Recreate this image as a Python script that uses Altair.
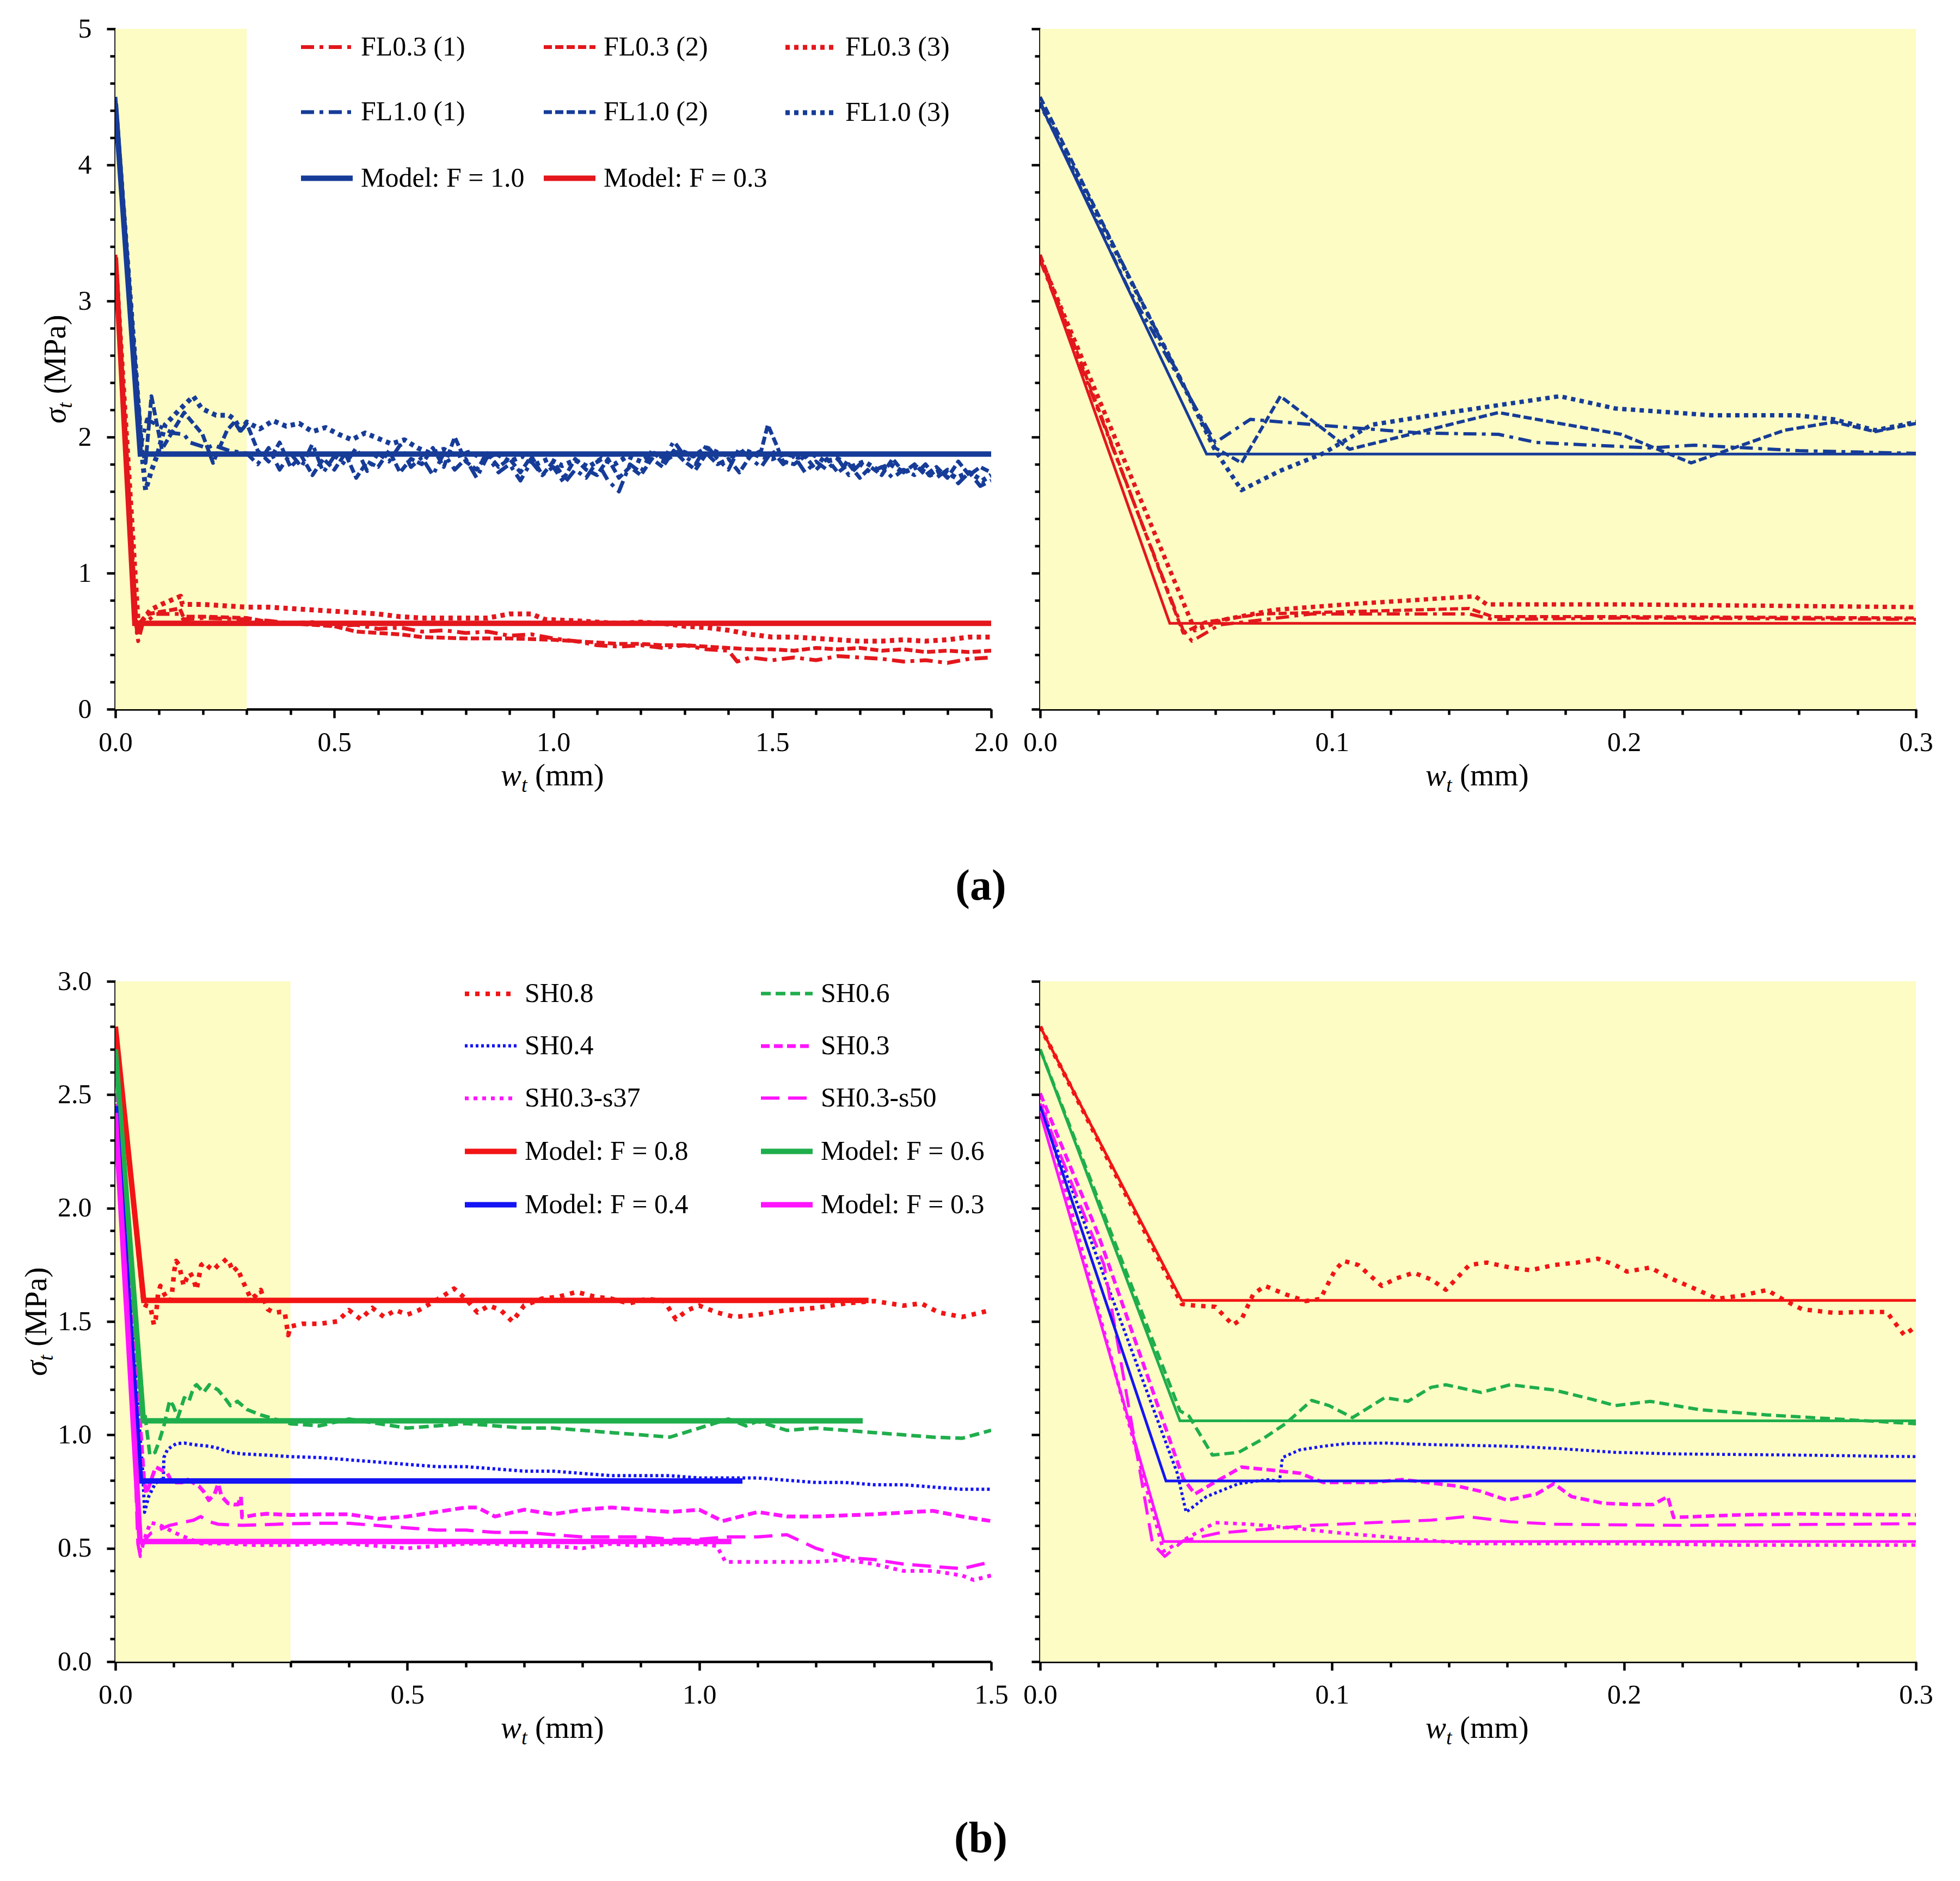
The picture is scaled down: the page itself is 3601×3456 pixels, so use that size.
import altair as alt
import pandas as pd

FONT = "Liberation Serif"

# ---------------- (a) FL data ----------------
fl03_1 = [(0, 3.30), (0.049, 0.58), (0.052, 0.50), (0.0615, 0.62), (0.093, 0.70), (0.147, 0.70), (0.155, 0.66),
          (0.2, 0.67), (0.3, 0.66), (0.35, 0.65), (0.4, 0.63), (0.45, 0.64), (0.5, 0.61), (0.55, 0.62), (0.6, 0.59),
          (0.65, 0.60), (0.7, 0.57), (0.75, 0.58), (0.8, 0.56), (0.85, 0.57), (0.9, 0.54), (0.95, 0.55), (1.0, 0.52),
          (1.05, 0.50), (1.1, 0.47), (1.15, 0.46), (1.2, 0.47), (1.25, 0.45), (1.3, 0.47), (1.35, 0.44), (1.4, 0.43),
          (1.42, 0.35), (1.45, 0.38), (1.5, 0.36), (1.55, 0.38), (1.6, 0.36), (1.65, 0.39), (1.7, 0.38), (1.75, 0.37),
          (1.8, 0.35), (1.85, 0.36), (1.9, 0.34), (1.95, 0.37), (2.0, 0.38)]
fl03_2 = [(0, 3.34), (0.049, 0.56), (0.0565, 0.64), (0.076, 0.70), (0.147, 0.74), (0.155, 0.68), (0.2, 0.68),
          (0.3, 0.67), (0.35, 0.64), (0.4, 0.63), (0.45, 0.62), (0.5, 0.61), (0.55, 0.57), (0.6, 0.56), (0.65, 0.55),
          (0.7, 0.53), (0.8, 0.52), (0.9, 0.52), (1.0, 0.51), (1.05, 0.50), (1.1, 0.49), (1.15, 0.48), (1.2, 0.48),
          (1.25, 0.47), (1.3, 0.47), (1.35, 0.46), (1.4, 0.45), (1.45, 0.44), (1.5, 0.44), (1.55, 0.43), (1.6, 0.45),
          (1.65, 0.44), (1.7, 0.45), (1.75, 0.43), (1.8, 0.44), (1.85, 0.42), (1.9, 0.43), (1.95, 0.42), (2.0, 0.43)]
fl03_3 = [(0, 3.32), (0.053, 0.58), (0.0635, 0.66), (0.08, 0.73), (0.105, 0.77), (0.134, 0.81), (0.149, 0.83),
          (0.153, 0.77), (0.2, 0.77), (0.25, 0.76), (0.3, 0.75), (0.35, 0.75), (0.4, 0.74), (0.45, 0.73), (0.5, 0.72),
          (0.55, 0.71), (0.6, 0.70), (0.65, 0.68), (0.7, 0.67), (0.75, 0.67), (0.8, 0.67), (0.85, 0.67), (0.9, 0.70),
          (0.95, 0.70), (0.98, 0.66), (1.05, 0.65), (1.1, 0.64), (1.15, 0.63), (1.2, 0.64), (1.25, 0.63), (1.3, 0.61),
          (1.35, 0.60), (1.4, 0.58), (1.45, 0.55), (1.5, 0.53), (1.55, 0.53), (1.6, 0.52), (1.65, 0.51), (1.7, 0.50),
          (1.75, 0.50), (1.8, 0.51), (1.85, 0.50), (1.9, 0.51), (1.95, 0.53), (2.0, 0.53)]
fl10_1 = [(0, 4.46), (0.03, 3.1), (0.06, 1.96), (0.072, 2.13), (0.1, 2.08), (0.13, 2.03), (0.157, 2.02), (0.17, 1.96),
          (0.209, 1.92), (0.224, 1.94), (0.26, 1.90), (0.3, 1.88), (0.325, 1.80), (0.35, 1.92), (0.375, 1.76),
          (0.4, 1.88), (0.425, 1.78), (0.45, 1.95), (0.475, 1.74), (0.5, 1.86), (0.525, 1.80), (0.55, 1.92),
          (0.575, 1.75), (0.6, 1.88), (0.625, 1.82), (0.65, 1.94), (0.675, 1.78), (0.7, 1.85), (0.725, 1.72),
          (0.75, 1.88), (0.775, 1.76), (0.8, 1.84), (0.825, 1.70), (0.85, 1.86), (0.875, 1.74), (0.9, 1.80),
          (0.925, 1.68), (0.95, 1.82), (0.975, 1.72), (1.0, 1.78), (1.025, 1.66), (1.05, 1.76), (1.075, 1.70),
          (1.1, 1.82), (1.125, 1.68), (1.15, 1.60), (1.175, 1.80), (1.2, 1.74), (1.225, 1.90), (1.25, 1.82),
          (1.275, 1.97), (1.3, 1.86), (1.325, 1.80), (1.35, 1.94), (1.375, 1.84), (1.4, 1.76), (1.425, 1.92),
          (1.45, 1.84), (1.475, 1.78), (1.5, 1.90), (1.525, 1.80), (1.55, 1.86), (1.575, 1.74), (1.6, 1.82),
          (1.625, 1.76), (1.65, 1.84), (1.675, 1.72), (1.7, 1.80), (1.725, 1.74), (1.75, 1.78), (1.775, 1.70),
          (1.8, 1.76), (1.825, 1.72), (1.85, 1.80), (1.875, 1.70), (1.9, 1.76), (1.925, 1.66), (1.95, 1.74),
          (1.975, 1.64), (2.0, 1.68)]
fl10_2 = [(0, 4.5), (0.03, 3.2), (0.06, 1.92), (0.069, 1.81), (0.0823, 2.30), (0.106, 1.91), (0.157, 2.18),
          (0.199, 2.02), (0.223, 1.81), (0.255, 2.05), (0.272, 2.11), (0.286, 2.04), (0.3, 2.10), (0.325, 1.90),
          (0.35, 1.82), (0.375, 1.96), (0.4, 1.78), (0.425, 1.86), (0.45, 1.72), (0.475, 1.84), (0.5, 1.76),
          (0.525, 1.88), (0.55, 1.70), (0.575, 1.82), (0.6, 1.78), (0.625, 1.90), (0.65, 1.74), (0.675, 1.84),
          (0.7, 1.80), (0.725, 1.92), (0.75, 1.78), (0.775, 2.0), (0.8, 1.82), (0.825, 1.76), (0.85, 1.88),
          (0.875, 1.78), (0.9, 1.84), (0.925, 1.74), (0.95, 1.86), (0.975, 1.72), (1.0, 1.82), (1.025, 1.70),
          (1.05, 1.84), (1.075, 1.76), (1.1, 1.72), (1.125, 1.84), (1.15, 1.70), (1.175, 1.78), (1.2, 1.72),
          (1.225, 1.84), (1.25, 1.78), (1.275, 1.90), (1.3, 1.82), (1.325, 1.76), (1.35, 1.88), (1.375, 1.80),
          (1.4, 1.84), (1.425, 1.74), (1.45, 1.86), (1.475, 1.90), (1.49, 2.09), (1.51, 1.94), (1.525, 1.82),
          (1.55, 1.80), (1.575, 1.86), (1.6, 1.76), (1.625, 1.84), (1.65, 1.74), (1.675, 1.80), (1.7, 1.70),
          (1.725, 1.78), (1.75, 1.72), (1.775, 1.84), (1.8, 1.74), (1.825, 1.80), (1.85, 1.72), (1.875, 1.78),
          (1.9, 1.70), (1.925, 1.82), (1.95, 1.72), (1.975, 1.78), (2.0, 1.74)]
fl10_3 = [(0, 4.45), (0.0448, 2.57), (0.06, 1.90), (0.069, 1.61), (0.082, 1.75), (0.097, 1.88), (0.1135, 2.09),
          (0.143, 2.19), (0.178, 2.30), (0.197, 2.21), (0.23, 2.16), (0.259, 2.16), (0.272, 2.13), (0.286, 2.05),
          (0.3, 2.11), (0.33, 2.06), (0.36, 2.12), (0.39, 2.08), (0.42, 2.10), (0.45, 2.04), (0.48, 2.07),
          (0.51, 2.02), (0.54, 1.98), (0.57, 2.03), (0.6, 1.99), (0.63, 1.95), (0.66, 1.98), (0.69, 1.92),
          (0.72, 1.88), (0.75, 1.91), (0.78, 1.86), (0.81, 1.89), (0.84, 1.84), (0.87, 1.88), (0.9, 1.82),
          (0.93, 1.86), (0.96, 1.80), (0.99, 1.84), (1.02, 1.79), (1.05, 1.83), (1.08, 1.78), (1.11, 1.84),
          (1.14, 1.80), (1.17, 1.86), (1.2, 1.82), (1.23, 1.88), (1.26, 1.84), (1.29, 1.90), (1.32, 1.86),
          (1.35, 1.92), (1.38, 1.88), (1.41, 1.86), (1.44, 1.90), (1.47, 1.86), (1.5, 1.84), (1.53, 1.88),
          (1.56, 1.85), (1.59, 1.88), (1.62, 1.82), (1.65, 1.84), (1.68, 1.78), (1.71, 1.82), (1.74, 1.76),
          (1.77, 1.80), (1.8, 1.74), (1.83, 1.78), (1.86, 1.72), (1.89, 1.76), (1.92, 1.70), (1.95, 1.74),
          (1.98, 1.68), (2.0, 1.72)]
model_a10 = [(0, 4.45), (0.057, 1.875), (2.0, 1.875)]
model_a03 = [(0, 3.32), (0.0444, 0.631), (2.0, 0.631)]

# ---------------- (b) SH data ----------------
sh08 = [(0, 2.8), (0.0485, 1.577), (0.053, 1.57), (0.06, 1.565), (0.066, 1.485), (0.069, 1.51), (0.073, 1.62),
        (0.077, 1.657), (0.084, 1.62), (0.091, 1.59), (0.096, 1.60), (0.101, 1.726), (0.104, 1.767), (0.109, 1.749),
        (0.117, 1.657), (0.122, 1.69), (0.128, 1.715), (0.134, 1.685), (0.139, 1.64), (0.147, 1.749), (0.153, 1.76),
        (0.161, 1.738), (0.168, 1.726), (0.176, 1.749), (0.184, 1.76), (0.191, 1.777), (0.197, 1.749), (0.201, 1.72),
        (0.209, 1.738), (0.216, 1.69), (0.224, 1.646), (0.232, 1.60), (0.241, 1.616), (0.249, 1.639), (0.255, 1.593),
        (0.261, 1.554), (0.272, 1.538), (0.282, 1.542), (0.29, 1.542), (0.296, 1.44), (0.3, 1.478), (0.32, 1.49),
        (0.35, 1.49), (0.38, 1.50), (0.4, 1.55), (0.42, 1.51), (0.44, 1.56), (0.46, 1.52), (0.48, 1.55), (0.5, 1.53),
        (0.52, 1.55), (0.54, 1.58), (0.56, 1.61), (0.58, 1.645), (0.6, 1.60), (0.62, 1.54), (0.64, 1.57),
        (0.66, 1.55), (0.68, 1.50), (0.7, 1.57), (0.73, 1.60), (0.76, 1.61), (0.79, 1.63), (0.82, 1.61), (0.85, 1.60),
        (0.88, 1.58), (0.91, 1.60), (0.94, 1.59), (0.96, 1.51), (0.98, 1.55), (1.0, 1.57), (1.03, 1.54),
        (1.06, 1.52), (1.1, 1.53), (1.15, 1.55), (1.2, 1.56), (1.25, 1.58), (1.3, 1.59), (1.35, 1.57), (1.38, 1.58),
        (1.41, 1.54), (1.45, 1.52), (1.5, 1.55)]
sh06 = [(0, 2.70), (0.0479, 1.106), (0.051, 1.083), (0.059, 0.911), (0.068, 0.923), (0.076, 0.98), (0.084, 1.049),
        (0.093, 1.152), (0.099, 1.129), (0.107, 1.076), (0.118, 1.164), (0.126, 1.148), (0.134, 1.21), (0.139, 1.221),
        (0.151, 1.187), (0.161, 1.221), (0.176, 1.198), (0.189, 1.157), (0.197, 1.129), (0.209, 1.148),
        (0.226, 1.111), (0.249, 1.088), (0.27, 1.072), (0.3, 1.049), (0.35, 1.04), (0.4, 1.07), (0.45, 1.05),
        (0.5, 1.03), (0.55, 1.04), (0.6, 1.05), (0.65, 1.04), (0.7, 1.03), (0.75, 1.03), (0.8, 1.02), (0.85, 1.01),
        (0.9, 1.00), (0.95, 0.99), (1.0, 1.03), (1.05, 1.07), (1.08, 1.04), (1.1, 1.06), (1.15, 1.02), (1.2, 1.03),
        (1.25, 1.02), (1.3, 1.01), (1.35, 1.00), (1.4, 0.99), (1.45, 0.985), (1.5, 1.02)]
sh04 = [(0, 2.46), (0.047, 0.83), (0.05, 0.659), (0.057, 0.728), (0.068, 0.785), (0.078, 0.803), (0.082, 0.796),
        (0.083, 0.90), (0.089, 0.934), (0.097, 0.95), (0.105, 0.962), (0.118, 0.964), (0.134, 0.957), (0.161, 0.95),
        (0.176, 0.941), (0.197, 0.923), (0.218, 0.916), (0.259, 0.911), (0.3, 0.904), (0.35, 0.90), (0.4, 0.89),
        (0.45, 0.88), (0.5, 0.87), (0.55, 0.86), (0.6, 0.86), (0.65, 0.85), (0.7, 0.84), (0.75, 0.84), (0.8, 0.83),
        (0.85, 0.82), (0.9, 0.82), (0.95, 0.82), (1.0, 0.81), (1.05, 0.81), (1.1, 0.81), (1.15, 0.80), (1.2, 0.79),
        (1.25, 0.79), (1.3, 0.78), (1.35, 0.78), (1.4, 0.77), (1.45, 0.76), (1.5, 0.76)]
sh03 = [(0, 2.506), (0.0198, 1.887), (0.049, 0.808), (0.053, 0.739), (0.059, 0.785), (0.069, 0.858), (0.076, 0.849),
        (0.089, 0.831), (0.097, 0.79), (0.114, 0.79), (0.124, 0.803), (0.143, 0.774), (0.151, 0.751), (0.16, 0.712),
        (0.17, 0.739), (0.176, 0.785), (0.182, 0.728), (0.193, 0.698), (0.203, 0.693), (0.21, 0.693), (0.215, 0.728),
        (0.217, 0.636), (0.239, 0.647), (0.259, 0.652), (0.3, 0.647), (0.35, 0.65), (0.4, 0.65), (0.45, 0.63),
        (0.5, 0.64), (0.55, 0.66), (0.6, 0.68), (0.62, 0.68), (0.65, 0.64), (0.7, 0.67), (0.75, 0.65), (0.8, 0.67),
        (0.85, 0.68), (0.9, 0.67), (0.95, 0.66), (1.0, 0.67), (1.04, 0.62), (1.1, 0.66), (1.15, 0.64), (1.2, 0.64),
        (1.3, 0.65), (1.4, 0.665), (1.45, 0.64), (1.5, 0.62)]
sh03_s37 = [(0, 2.495), (0.0423, 0.487), (0.047, 0.521), (0.055, 0.578), (0.06, 0.613), (0.072, 0.606),
            (0.086, 0.59), (0.103, 0.567), (0.124, 0.544), (0.147, 0.521), (0.197, 0.521), (0.239, 0.514),
            (0.3, 0.514), (0.35, 0.52), (0.4, 0.52), (0.45, 0.51), (0.5, 0.50), (0.55, 0.51), (0.6, 0.52),
            (0.65, 0.52), (0.7, 0.51), (0.75, 0.51), (0.8, 0.50), (0.85, 0.52), (0.9, 0.51), (0.95, 0.52),
            (1.0, 0.52), (1.03, 0.51), (1.045, 0.44), (1.1, 0.44), (1.15, 0.44), (1.2, 0.44), (1.25, 0.45),
            (1.3, 0.43), (1.35, 0.40), (1.4, 0.40), (1.45, 0.38), (1.47, 0.36), (1.5, 0.38)]
sh03_s50 = [(0, 2.46), (0.0219, 1.749), (0.0385, 0.521), (0.0427, 0.464), (0.049, 0.533), (0.061, 0.567),
            (0.076, 0.583), (0.093, 0.601), (0.114, 0.613), (0.134, 0.624), (0.146, 0.64), (0.161, 0.617),
            (0.176, 0.606), (0.218, 0.601), (0.3, 0.608), (0.35, 0.61), (0.4, 0.61), (0.45, 0.60), (0.5, 0.59),
            (0.55, 0.58), (0.6, 0.58), (0.65, 0.57), (0.7, 0.57), (0.75, 0.56), (0.8, 0.55), (0.85, 0.55),
            (0.9, 0.55), (0.95, 0.54), (1.0, 0.54), (1.05, 0.55), (1.1, 0.55), (1.15, 0.56), (1.2, 0.50),
            (1.25, 0.46), (1.3, 0.45), (1.35, 0.43), (1.4, 0.42), (1.45, 0.41), (1.5, 0.44)]
model_b08 = [(0, 2.8), (0.0485, 1.593), (1.29, 1.593)]
model_b06 = [(0, 2.70), (0.0479, 1.062), (1.28, 1.062)]
model_b04 = [(0, 2.45), (0.0431, 0.797), (1.074, 0.797)]
model_b03 = [(0, 2.42), (0.0423, 0.53), (1.055, 0.53)]

# ---------------- styles ----------------
BLUE_A, RED_A = "#163c98", "#e3171c"
RED_B, GREEN_B, BLUE_B, MAG_B = "#f21414", "#1fae4c", "#1414f5", "#ff14ff"
SHADE = "#fcfcc4"

names_a = ["FL0.3 (1)", "FL0.3 (2)", "FL0.3 (3)", "FL1.0 (1)", "FL1.0 (2)", "FL1.0 (3)",
           "Model: F = 1.0", "Model: F = 0.3"]
series_a = [fl03_1, fl03_2, fl03_3, fl10_1, fl10_2, fl10_3, model_a10, model_a03]
colors_a = [RED_A, RED_A, RED_A, BLUE_A, BLUE_A, BLUE_A, BLUE_A, RED_A]
dashes_a = [[24, 10, 7, 10], [15, 6], [8, 8], [24, 10, 7, 10], [15, 6], [8, 8], [1, 0], [1, 0]]
wl_a = [7, 7, 9, 7, 7, 9, 10, 10]
wr_a = [6, 6, 8, 6, 6, 8, 5, 5]

names_b = ["SH0.8", "SH0.6", "SH0.4", "SH0.3", "SH0.3-s37", "SH0.3-s50",
           "Model: F = 0.8", "Model: F = 0.6", "Model: F = 0.4", "Model: F = 0.3"]
series_b = [sh08, sh06, sh04, sh03, sh03_s37, sh03_s50, model_b08, model_b06, model_b04, model_b03]
colors_b = [RED_B, GREEN_B, BLUE_B, MAG_B, MAG_B, MAG_B, RED_B, GREEN_B, BLUE_B, MAG_B]
dashes_b = [[8, 11], [18, 9], [5, 5], [16, 8], [7, 9], [34, 16], [1, 0], [1, 0], [1, 0], [1, 0]]
wl_b = [8.5, 6.5, 6, 7, 7, 6, 10, 10, 10, 10]
wr_b = [8, 6, 5.5, 6.5, 6.5, 5.5, 5, 5, 5, 5]

x_ticks_a_left = [round(i * 0.1, 2) for i in range(21)]
x_ticks_right = [round(i * 0.02, 3) for i in range(16)]
y_ticks_a = [round(i * 0.2, 2) for i in range(26)]
x_ticks_b_left = [round(i * 0.1, 2) for i in range(16)]
y_ticks_b = [round(i * 0.1, 2) for i in range(31)]


def frame(series, names):
    rows = []
    for name, pts in zip(names, series):
        for i, (x, y) in enumerate(pts):
            rows.append({"series": name, "x": x, "y": y, "i": i,
                         "model": name.startswith("Model")})
    return pd.DataFrame(rows)


df_a = frame(series_a, names_a)
df_b = frame(series_b, names_b)

W, H = 1609, 1250


def major_test(step):
    return f"abs(datum.value/{step} - round(datum.value/{step})) < 0.000001"


def make_axis(ticks, step, fmt, labels=True, pad=20):
    return alt.Axis(values=ticks, title=None, grid=False, labels=labels,
                    labelExpr=f"{major_test(step)} ? format(datum.value, '{fmt}') : ''",
                    labelFlush=False, labelOverlap=False, labelBound=False,
                    labelFont=FONT, labelFontSize=50, labelColor="black", labelPadding=pad,
                    domainColor="black", domainWidth=4.5, tickColor="black", tickWidth=4.5,
                    tickSize={"condition": {"test": major_test(step), "value": 16}, "value": 10})


def text_layer(txt, x, y, size, angle=0, style="normal", weight="normal", align="left"):
    return alt.Chart(pd.DataFrame({"k": [0]})).mark_text(
        text=txt, font=FONT, fontSize=size, fontStyle=style, fontWeight=weight,
        align=align, baseline="alphabetic", angle=angle, color="black"
    ).encode(x=alt.value(x), y=alt.value(y))


def panel(df, names, colors, dashes, widths, xmax, ymax, xticks, xstep, xfmt,
          yticks, ystep, yfmt, shade_x1, legend, ytitle_x, tag):
    ylabels = ytitle_x is not None
    xs = alt.Scale(domain=[0, xmax], nice=False, zero=False)
    ys = alt.Scale(domain=[0, ymax], nice=False, zero=False)
    shade = alt.Chart(pd.DataFrame({"x0": [0], "x1": [shade_x1], "y0": [0], "y1": [ymax]})).mark_rect(
        color=SHADE).encode(
        x=alt.X("x0:Q", scale=xs, axis=make_axis(xticks, xstep, xfmt)),
        x2="x1", y=alt.Y("y0:Q", scale=ys, axis=make_axis(yticks, ystep, yfmt, labels=ylabels, pad=28)), y2="y1")
    enc = dict(
        x=alt.X("x:Q", scale=xs, axis=make_axis(xticks, xstep, xfmt)),
        y=alt.Y("y:Q", scale=ys, axis=make_axis(yticks, ystep, yfmt, labels=ylabels, pad=28)),
        color=alt.Color("series:N", scale=alt.Scale(domain=names, range=colors), legend=legend),
        strokeDash=alt.StrokeDash("series:N", scale=alt.Scale(domain=names, range=dashes), legend=legend),
        strokeWidth=alt.StrokeWidth("series:N", scale=alt.Scale(type="ordinal", domain=names, range=widths),
                                    legend=legend),
        order=alt.Order("i:Q"),
    )
    exp = alt.Chart(df[~df["model"]]).mark_line(clip=True, strokeCap="butt", strokeJoin="round").encode(**enc)
    mod = alt.Chart(df[df["model"]]).mark_line(clip=True, strokeCap="butt").encode(**enc)
    layers = [shade, exp, mod,
              text_layer("w", 708, H + 140, 57, style="italic"),
              text_layer("t", 746, H + 152, 38, style="italic"),
              text_layer("(mm)", 771, H + 140, 57)]
    if ylabels:
        layers += [text_layer("σ", ytitle_x, 725, 57, angle=270, style="italic"),
                   text_layer("t", ytitle_x + 12, 697, 38, angle=270, style="italic"),
                   text_layer("(MPa)", ytitle_x, 671, 57, angle=270)]
    if tag:
        layers.append(text_layer(tag, 1590, 1600, 80, weight="bold", align="center"))
    return alt.layer(*layers).properties(width=W, height=H)


leg_a = alt.Legend(orient="none", legendX=336, legendY=-18, columns=3, direction="horizontal",
                   symbolType="stroke", symbolSize=9025, labelFont=FONT, labelFontSize=50,
                   labelColor="black", labelLimit=3000, title=None, rowPadding=43, columnPadding=15,
                   labelOffset=10, padding=0, symbolOpacity=1)
leg_b = alt.Legend(orient="none", legendX=637, legendY=-29, columns=2, direction="horizontal",
                   symbolType="stroke", symbolSize=9025, labelFont=FONT, labelFontSize=50,
                   labelColor="black", labelLimit=3000, title=None, rowPadding=20, columnPadding=113,
                   labelOffset=10, padding=0, symbolOpacity=1)

tl = panel(df_a, names_a, colors_a, dashes_a, wl_a, 2.0, 5, x_ticks_a_left, 0.5, ".1f",
           y_ticks_a, 1, "d", 0.3, leg_a, -92, "(a)")
tr = panel(df_a, names_a, colors_a, dashes_a, wr_a, 0.3, 5, x_ticks_right, 0.1, ".1f",
           y_ticks_a, 1, "d", 0.3, None, None, None)
bl = panel(df_b, names_b, colors_b, dashes_b, wl_b, 1.5, 3.0, x_ticks_b_left, 0.5, ".1f",
           y_ticks_b, 0.5, ".1f", 0.3, leg_b, -127, "(b)")
br = panel(df_b, names_b, colors_b, dashes_b, wr_b, 0.3, 3.0, x_ticks_right, 0.1, ".1f",
           y_ticks_b, 0.5, ".1f", 0.3, None, None, None)

chart = alt.concat(tl, tr, bl, br, columns=2, spacing={"row": 500, "column": 90}, bounds="flush").resolve_scale(
    x="independent", y="independent", color="independent", strokeDash="independent", strokeWidth="independent"
).resolve_legend(
    color="independent", strokeDash="independent", strokeWidth="independent"
).configure(font=FONT).configure_view(strokeWidth=0).configure_legend(
    labelFont=FONT, labelFontSize=50, labelColor="black"
).properties(
    background="white", padding={"left": 31, "top": 20, "right": 40, "bottom": 20}
)

chart.save("out.html", embed_options={"renderer": "svg", "actions": False})
